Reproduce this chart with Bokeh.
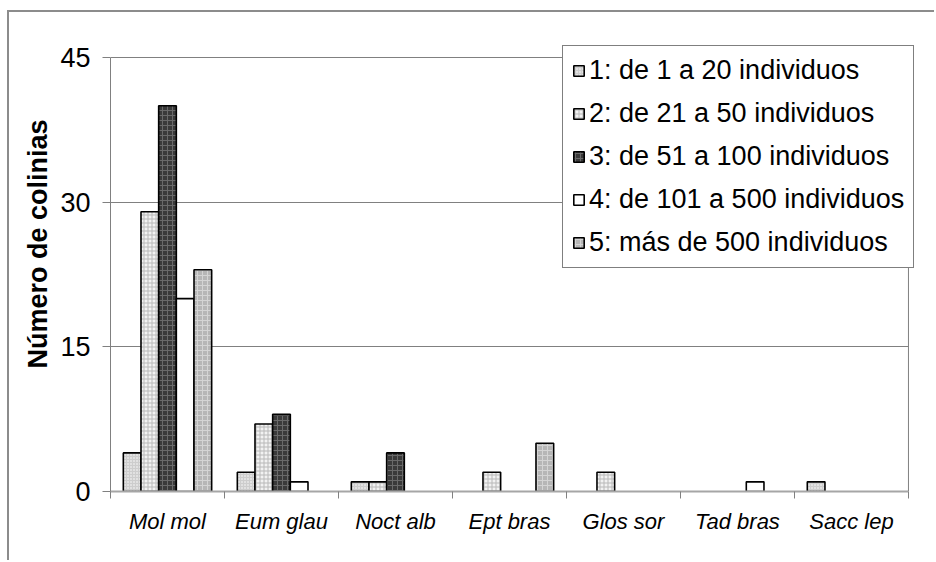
from bokeh.plotting import figure
from bokeh.models import (Range1d, FixedTicker, ColumnDataSource, Legend,
                          LegendItem, Span, Title)
from bokeh.embed import file_html
from bokeh.resources import INLINE

# --- data -------------------------------------------------------------
species = ["Mol mol", "Eum glau", "Noct alb", "Ept bras",
           "Glos sor", "Tad bras", "Sacc lep"]
series_labels = ["1: de 1 a 20 individuos",
                 "2: de 21 a 50 individuos",
                 "3: de 51 a 100 individuos",
                 "4: de 101 a 500 individuos",
                 "5: más de 500 individuos"]
s1 = [4, 2, 1, 0, 0, 0, 1]
s2 = [29, 7, 1, 2, 2, 0, 0]
s3 = [40, 8, 4, 0, 0, 0, 0]
s4 = [20, 1, 0, 0, 0, 1, 0]
s5 = [23, 0, 0, 5, 0, 0, 0]
y_ticks = [0, 15, 30, 45]
y_title = "Número de colinias"

series = [s1, s2, s3, s4, s5]

# fill / hatch per size class (greyscale patterned fills)
styles = [
    dict(fill_color="#cdcdcd", hatch_pattern="dot", hatch_color="#ffffff",
         hatch_scale=3),
    dict(fill_color="#f2f2f2", hatch_pattern="cross", hatch_color="#b8b8b8",
         hatch_scale=4),
    dict(fill_color="#3a3a3a", hatch_pattern="cross", hatch_color="#6a6a6a",
         hatch_scale=5),
    dict(fill_color="#ffffff", hatch_pattern=None, hatch_color="#ffffff",
         hatch_scale=4),
    dict(fill_color="#b6b6b6", hatch_pattern="cross", hatch_color="#d4d4d4",
         hatch_scale=5),
]

FONT = "Liberation Sans"
bar_w = 0.155
n = len(species)
y_max = max(y_ticks)

# plot area: categories span 0..n, values 0..y_max; a little head/side
# room is kept so the legend box fits inside the drawing frame
p = figure(width=927, height=550, output_backend="svg", toolbar_location=None,
           x_range=Range1d(0, n + 0.053), y_range=Range1d(0, y_max + 1.244),
           min_border_left=101, min_border_right=22,
           min_border_top=33, min_border_bottom=71)
p.background_fill_color = "white"
p.border_fill_color = "white"
p.outline_line_color = None
# light outer chart border
p.styles = {"border-left": "2px solid #8c8c8c", "border-top": "2px solid #8c8c8c"}
p.margin = (10, 0, 0, 7)

# --- bars ---------------------------------------------------------------
items = []
for k, (vals, st) in enumerate(zip(series, styles)):
    xs, tops = [], []
    for i, v in enumerate(vals):
        if v > 0:
            xs.append(i + 0.5 + (k - 2) * bar_w)
            tops.append(v)
    src = ColumnDataSource(dict(x=xs, top=tops))
    kw = dict(fill_color=st["fill_color"], line_color="black", line_width=1.6)
    if st["hatch_pattern"]:
        kw.update(hatch_pattern=st["hatch_pattern"], hatch_color=st["hatch_color"],
                  hatch_scale=st["hatch_scale"], hatch_weight=1)
    r = p.vbar(x="x", top="top", bottom=0, width=bar_w, source=src, **kw)
    items.append(LegendItem(label=series_labels[k], renderers=[r]))

# --- axes ---------------------------------------------------------------
p.xaxis.bounds = (0, n)
p.xaxis.ticker = FixedTicker(ticks=[i + 0.5 for i in range(n)],
                             minor_ticks=list(range(n + 1)))
p.xaxis.major_label_overrides = {i + 0.5: s for i, s in enumerate(species)}
p.xaxis.major_tick_out = 0
p.xaxis.major_tick_in = 0
p.xaxis.minor_tick_out = 7
p.xaxis.minor_tick_in = 0
p.xaxis.minor_tick_line_color = "#808080"
p.xaxis.axis_line_color = "#a6a6a6"
p.xaxis.axis_line_width = 2
p.xaxis.major_label_text_font = FONT
p.xaxis.major_label_text_font_style = "italic"
p.xaxis.major_label_text_font_size = "22px"
p.xaxis.major_label_text_color = "black"
p.xaxis.major_label_standoff = 10

p.yaxis.bounds = (0, y_max)
p.yaxis.ticker = FixedTicker(ticks=y_ticks)
p.yaxis.axis_line_color = "#808080"
p.yaxis.major_tick_out = 8
p.yaxis.major_tick_in = 0
p.yaxis.major_tick_line_color = "#808080"
p.yaxis.minor_tick_line_color = None
p.yaxis.major_label_text_font = FONT
p.yaxis.major_label_text_font_size = "27px"
p.yaxis.major_label_text_color = "black"
p.yaxis.major_label_standoff = 12

p.xgrid.visible = False
p.ygrid.ticker = FixedTicker(ticks=y_ticks)
p.ygrid.grid_line_color = "#808080"
p.ygrid.grid_line_width = 1
try:
    # keep horizontal grid lines within the category span
    p.ygrid.cross_bounds = (0, n)
except AttributeError:
    pass

# right edge of the plot area
p.add_layout(Span(location=n, dimension="height", line_color="#808080",
                  line_width=1))

# axis title
p.add_layout(Title(text=y_title, align="left", offset=123,
                   text_font=FONT, text_font_style="bold",
                   text_font_size="27px", text_color="black"), "left")

# --- legend -------------------------------------------------------------
legend = Legend(items=items, location=(452, 223),
                glyph_width=13, glyph_height=13, label_standoff=4,
                label_width=314, spacing=12, padding=9, margin=0,
                label_text_font=FONT, label_text_font_size="27px",
                label_text_color="black",
                border_line_color="black", border_line_width=1.5,
                background_fill_color="white", background_fill_alpha=1)
p.add_layout(legend)

open("out.html", "w").write(file_html(p, INLINE))
